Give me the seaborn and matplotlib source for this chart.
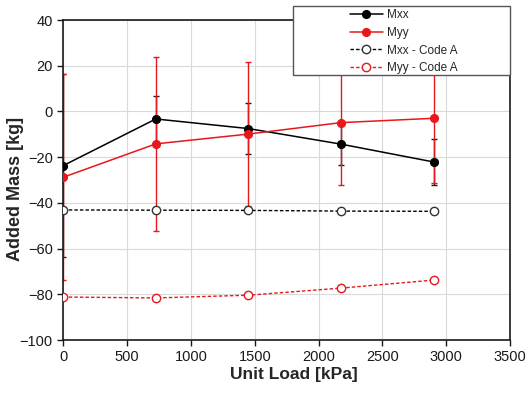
import matplotlib
matplotlib.use("Agg")
import matplotlib.pyplot as plt
from matplotlib.patches import Rectangle
import seaborn as sns
import pandas as pd

# ==========================================
# DATA

unit_load = [0, 725, 1450, 2175, 2900]

mxx = [-23.7, -3.3, -7.5, -14.3, -22.1]
mxx_err = [40.0, 10.2, 11.0, 9.0, 10.0]

myy = [-28.8, -14.2, -9.9, -4.9, -3.0]
myy_err = [45.0, 38.0, 31.5, 27.5, 28.5]

mxx_code = [-43.1, -43.2, -43.3, -43.6, -43.7]
myy_code = [-81.2, -81.6, -80.4, -77.3, -73.8]

x_ticks = [0, 500, 1000, 1500, 2000, 2500, 3000, 3500]
y_ticks = [-100, -80, -60, -40, -20, 0, 20, 40]

RED = "#e8171c"


# ==========================================
# CHART

sns.set_style("whitegrid", {
    "grid.color": "#d9d9d9",
    "axes.edgecolor": "#1a1a1a",
    "xtick.bottom": True,
    "ytick.left": True,
})
plt.rcParams['font.family'] = ['Liberation Sans', 'DejaVu Sans']

df = pd.DataFrame({
    "load": unit_load,
    "Mxx": mxx,
    "Myy": myy,
    "Mxx - Code A": mxx_code,
    "Myy - Code A": myy_code,
})

fig = plt.figure(figsize=(5.27, 4.0), dpi=100)
ax = fig.add_axes([0.12, 0.15, 0.848, 0.80])

# error bars first, lines on top
ax.errorbar(unit_load, mxx, yerr=mxx_err, fmt="none",
            ecolor="#1a1a1a", elinewidth=1.0, capsize=2.5, capthick=1.0, zorder=2)
ax.errorbar(unit_load, myy, yerr=myy_err, fmt="none",
            ecolor=RED, elinewidth=1.0, capsize=2.5, capthick=1.0, zorder=2.1)

sns.lineplot(data=df, x="load", y="Mxx", ax=ax, color="black",
             marker="o", markersize=5.8, markeredgecolor="black",
             linewidth=1.1, label="Mxx", zorder=3)
sns.lineplot(data=df, x="load", y="Myy", ax=ax, color=RED,
             marker="o", markersize=5.8, markeredgecolor=RED,
             linewidth=1.1, label="Myy", zorder=3)
sns.lineplot(data=df, x="load", y="Mxx - Code A", ax=ax, color="black",
             marker="o", markersize=6, markerfacecolor="white",
             markeredgecolor="#333333", markeredgewidth=1.0,
             linestyle=(0, (2.5, 1.5)), linewidth=1.0,
             label="Mxx - Code A", zorder=3)
sns.lineplot(data=df, x="load", y="Myy - Code A", ax=ax, color=RED,
             marker="o", markersize=6, markerfacecolor="white",
             markeredgecolor=RED, markeredgewidth=1.0,
             linestyle=(0, (2.5, 1.5)), linewidth=1.0,
             label="Myy - Code A", zorder=3)

ax.set_xlim(0, 3500)
ax.set_ylim(-100, 40)
ax.set_xticks(x_ticks)
ax.set_yticks(y_ticks)
ax.tick_params(axis="both", labelsize=10.5, length=4, width=1.0,
               color="#1a1a1a", labelcolor="#1a1a1a")
for s in ax.spines.values():
    s.set_linewidth(1.2)

ax.set_xlabel("Unit Load [kPa]", fontsize=12.5, fontweight="bold")
ax.set_ylabel("Added Mass [kg]", fontsize=13, fontweight="bold")
ax.yaxis.set_label_coords(-0.087, 0.473)
ax.xaxis.set_label_coords(0.516, -0.083)

# legend: box in figure coords, entries centred inside
handles, labels = ax.get_legend_handles_labels()
ax.get_legend().remove()
leg = fig.legend(handles, labels, loc="upper left",
                 bbox_to_anchor=(0.664, 0.977), frameon=False,
                 fontsize=8.5, handlelength=2.8, handletextpad=0.3,
                 labelspacing=0.48, borderpad=0, borderaxespad=0)
leg.set_zorder(6)
box = Rectangle((0.556, 0.8125), 0.412, 0.1725,
                transform=fig.transFigure, facecolor="white",
                edgecolor="#555555", linewidth=1.0, zorder=5)
fig.patches.append(box)

plt.savefig("out.png", dpi=100)
